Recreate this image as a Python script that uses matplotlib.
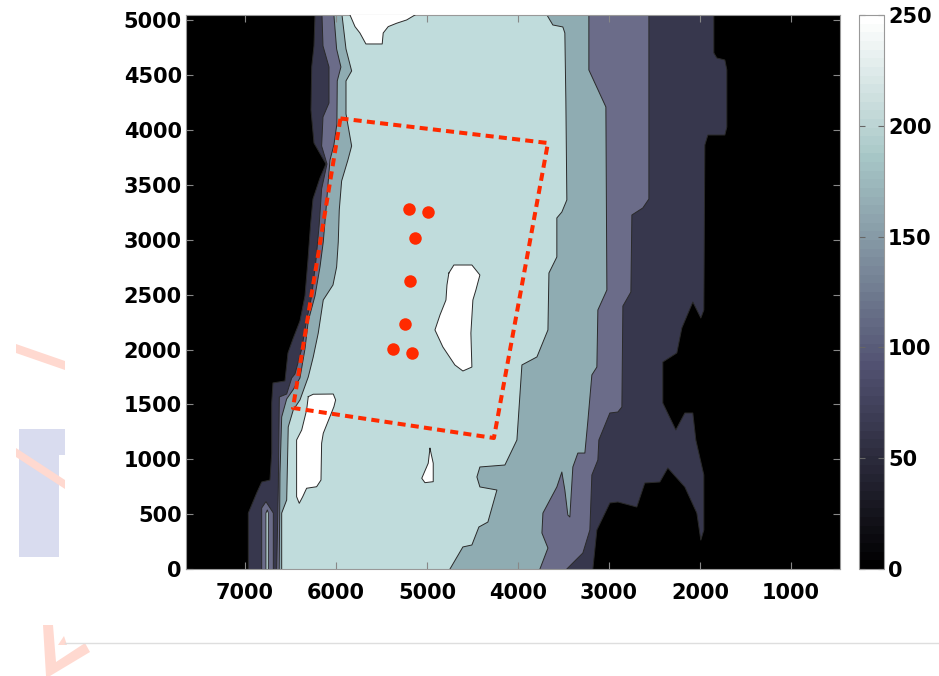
import matplotlib
matplotlib.use("Agg")
import matplotlib.pyplot as plt
import numpy as np
from matplotlib.colors import ListedColormap, Normalize
from matplotlib.cm import ScalarMappable
from matplotlib.patches import Polygon
from matplotlib.lines import Line2D

# contour band edges, (x, y), top to bottom
lvl50_left = [(6232, 5050), (6243, 4768), (6268, 4576), (6276, 4184), (6243, 3883), (6111, 3692),
              (6177, 3564), (6254, 3373), (6280, 3145), (6309, 2817), (6342, 2489), (6397, 2261),
              (6474, 2097), (6529, 1969), (6562, 1714), (6694, 1696), (6708, 1513), (6708, 1057),
              (6727, 811), (6818, 793), (6873, 693), (6965, 510), (6965, 0)]
lvl50_right = [(1847, 5050), (1847, 4704), (1814, 4658), (1726, 4640), (1704, 4549), (1704, 4029),
               (1726, 3956), (1913, 3956), (1946, 3865), (1957, 2361), (1990, 2288), (2078, 2434),
               (2199, 2197), (2254, 1969), (2408, 1887), (2408, 1513), (2265, 1267), (2166, 1422),
               (2078, 1422), (2045, 1176), (1957, 857), (1957, 356), (1990, 264), (2034, 510),
               (2166, 748), (2353, 921), (2441, 793), (2606, 784), (2694, 565), (2902, 611),
               (2990, 602), (3133, 356), (3177, 0)]
lvl100_left = [(6155, 5050), (6144, 4768), (6078, 4576), (6078, 4248), (6144, 4120), (6159, 3856),
               (6100, 3692), (6159, 3464), (6185, 3145), (6221, 2817), (6268, 2489), (6331, 2234),
               (6378, 2006), (6452, 1778), (6488, 1741), (6543, 1595), (6624, 1568), (6635, 748),
               (6653, 0)]
lvl100_right = [(2561, 5050), (2561, 3373), (2628, 3291), (2748, 3227), (2759, 2525), (2847, 2397),
                (2858, 1477), (2902, 1431), (2990, 1422), (3111, 1176), (3122, 994), (3188, 857),
                (3210, 356), (3287, 146), (3397, 55), (3463, 0)]
lvl150_left = [(6024, 5050), (5994, 4740), (5947, 4576), (5987, 4449), (5991, 4057), (6024, 3865),
               (6067, 3728), (6086, 3537), (6111, 3273), (6141, 2981), (6177, 2753), (6232, 2489),
               (6306, 2261), (6342, 2006), (6397, 1741), (6474, 1632), (6543, 1550), (6598, 1386),
               (6617, 866), (6625, 0)]
lvl150_right = [(3221, 5050), (3221, 4549), (3034, 4212), (3023, 2543), (3122, 2361), (3133, 1841),
                (3188, 1769), (3232, 1349), (3265, 1057), (3342, 1057), (3397, 930), (3419, 629),
                (3430, 474), (3452, 492), (3485, 720), (3518, 884), (3573, 748), (3726, 510),
                (3737, 328), (3671, 191), (3759, 0)]
lvl200_left = [(5935, 5050), (5891, 4740), (5829, 4540), (5891, 4449), (5891, 4148), (5829, 3856),
               (5870, 3728), (5939, 3537), (5965, 3273), (5976, 2981), (5994, 2753), (6034, 2589),
               (6141, 2452), (6196, 2151), (6251, 1933), (6306, 1750), (6397, 1541), (6471, 1449),
               (6526, 1295), (6543, 629), (6598, 510), (6598, 0)]
lvl200_right = [(3682, 5050), (3617, 4959), (3507, 4941), (3485, 4886), (3474, 4275), (3463, 3364),
                (3518, 3254), (3573, 3200), (3573, 2844), (3660, 2698), (3671, 2179), (3792, 1933),
                (3957, 1860), (4012, 1176), (4144, 948), (4419, 930), (4452, 839), (4419, 748),
                (4232, 720), (4331, 428), (4430, 383), (4507, 219), (4606, 201), (4748, 0)]

# white (highest) patches
top_island = [(5847, 5050), (5792, 4944), (5738, 4886), (5672, 4786), (5493, 4786), (5482, 4886),
              (5427, 4944), (5334, 4975), (5224, 5005), (5133, 5050)]
mid_island = [(4760, 2698), (4705, 2771), (4507, 2771), (4419, 2680), (4463, 2543), (4496, 2452),
              (4518, 2151), (4507, 1841), (4606, 1805), (4694, 1860), (4826, 2024), (4913, 2179),
              (4858, 2315), (4792, 2452), (4781, 2589)]
left_island = [(6306, 1571), (6251, 1593), (6031, 1595), (6005, 1541), (6024, 1479), (6141, 1237),
               (6159, 1146), (6166, 811), (6214, 750), (6324, 736), (6367, 659), (6405, 599),
               (6434, 659), (6434, 1176), (6378, 1267), (6324, 1449)]
small_island = [(4968, 1100), (4932, 964), (4932, 796), (5023, 787), (5058, 827), (4987, 964)]
# thin spike near the bottom left edge
spike_outer = [(6818, 0), (6818, 556), (6771, 614), (6690, 510), (6690, 0)]
spike_inner = [(6771, 0), (6771, 510), (6756, 538), (6745, 510), (6745, 0)]

# survey box and points
box_x = [5952, 3671, 4265, 6474, 5952]
box_y = [4107, 3883, 1194, 1468, 4107]
pts_x = [5196, 4994, 5133, 5188, 5243, 5378, 5169]
pts_y = [3279, 3257, 3015, 2628, 2231, 2003, 1972]

cbar_ticks = [0, 50, 100, 150, 200, 250]
x_ticks = [1000, 2000, 3000, 4000, 5000, 6000, 7000]
y_ticks = list(range(0, 5001, 500))

band_cols = ['#37374d', '#6b6c89', '#8facb2', '#c0dcdc']
edge_col = '#2a2a2a'

plt.rcParams['font.family'] = ['DejaVu Sans']
plt.rcParams['font.weight'] = 'bold'
plt.rcParams['font.size'] = 15

W, H = 939, 676
fig = plt.figure(figsize=(W / 100, H / 100), dpi=100)


def fpos(px, py):
    return (px / W, 1 - py / H)


# leftovers of the slide background
fig.add_artist(Line2D([65 / W, 1], [1 - 643 / H] * 2, color='#dedede', lw=1))
lav = '#d9dcef'
pink = '#ffd9d0'
for pts, c in [([(19, 429), (65, 429), (65, 455), (59, 455), (59, 557), (19, 557)], lav),
               ([(16, 344), (65, 361), (65, 370), (16, 353)], pink),
               ([(16, 448), (65, 480), (65, 489), (16, 457)], pink),
               ([(43, 625), (53, 625), (56, 662), (85, 643), (90, 652), (50, 676), (46, 676)], pink),
               ([(58, 645), (64, 636), (67, 645)], pink)]:
    fig.add_artist(Polygon([fpos(*p) for p in pts], closed=True, transform=fig.transFigure,
                           facecolor=c, edgecolor='none', zorder=0))

ax = fig.add_axes([186 / W, 1 - 569 / H, 654 / W, 554 / H])
ax.set_facecolor('black')

levels = [(lvl50_left, lvl50_right), (lvl100_left, lvl100_right),
          (lvl150_left, lvl150_right), (lvl200_left, lvl200_right)]
for (left, right), col in zip(levels, band_cols):
    poly = left + right[::-1]
    ax.fill([p[0] for p in poly], [p[1] for p in poly], color=col, lw=0, zorder=1)
    for side in (left, right):
        ax.plot([p[0] for p in side], [p[1] for p in side], color=edge_col, lw=0.7, zorder=2)

for shape, col, closed in [(spike_outer, band_cols[1], False), (spike_inner, band_cols[3], False),
                           (top_island, 'white', False), (mid_island, 'white', True),
                           (left_island, 'white', True), (small_island, 'white', True)]:
    xs = [p[0] for p in shape]
    ys = [p[1] for p in shape]
    ax.fill(xs, ys, color=col, lw=0, zorder=3)
    if closed:
        xs, ys = xs + xs[:1], ys + ys[:1]
    ax.plot(xs, ys, color=edge_col, lw=0.7, zorder=4)

ax.plot(box_x, box_y, color='#ff2a00', lw=2.9, dashes=(2, 1.3), zorder=5)
ax.plot(pts_x, pts_y, 'o', color='#ff2a00', ms=9, mec='none', zorder=6)

ax.set_xlim(7650, 460)
ax.set_ylim(0, 5050)
ax.set_xticks(x_ticks)
ax.set_yticks(y_ticks)
ax.tick_params(direction='in', top=True, right=True, length=5, width=0.8, colors='#888888',
               labelcolor='black')
ax.tick_params(axis='x', pad=10)
ax.tick_params(axis='y', pad=3)
for s in ax.spines.values():
    s.set_color('#999999')
    s.set_linewidth(0.8)

cax = fig.add_axes([859 / W, 1 - 569 / H, 25 / W, 554 / H])
bone64 = ListedColormap(plt.cm.bone(np.linspace(0, 1, 64)))
cb = fig.colorbar(ScalarMappable(norm=Normalize(0, 250), cmap=bone64), cax=cax, ticks=cbar_ticks)
cb.outline.set_edgecolor('#999999')
cb.outline.set_linewidth(0.8)
cax.tick_params(direction='in', left=True, right=True, length=4, width=0.8, colors='#666666',
                labelcolor='black', pad=3)

fig.savefig('out.png', dpi=100)
